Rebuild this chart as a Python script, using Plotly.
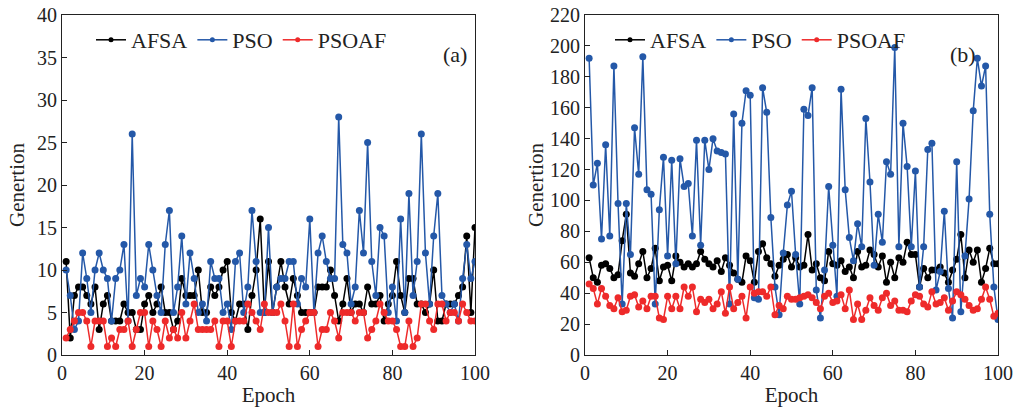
import plotly.graph_objects as go

epochs = list(range(1, 101))

afsa_a = [11,2,7,8,8,7,6,8,3,6,7,4,4,4,6,5,5,3,3,6,7,5,6,8,5,5,3,4,9,7,
          7,7,10,5,5,8,7,8,10,11,5,4,6,6,3,7,10,16,5,11,5,8,11,8,6,9,7,5,5,5,
          5,8,8,8,10,7,4,6,9,5,6,6,5,8,6,6,7,4,6,7,11,7,5,9,9,6,6,5,6,10,
          4,4,6,6,6,7,8,14,5,15]
pso_a = [10,7,3,4,12,9,5,10,12,10,9,4,9,10,13,4,26,7,9,8,13,10,7,5,13,17,5,8,14,6,
         12,9,5,6,4,11,9,9,5,6,3,11,12,5,8,17,11,5,5,15,5,8,9,9,11,11,6,9,8,16,
         5,12,14,11,9,9,28,13,12,6,8,17,12,25,11,7,15,14,5,8,4,16,5,19,7,11,26,12,6,14,
         19,7,6,5,6,4,9,13,9,11]
psoaf_a = [2,3,4,5,5,4,1,4,4,4,1,2,1,3,3,4,1,3,5,5,1,4,3,1,4,2,3,2,5,2,
           4,6,3,3,3,3,4,1,4,4,1,4,4,4,6,5,4,3,6,5,5,5,6,4,1,6,1,3,4,5,
           5,1,3,3,5,4,2,5,5,5,4,5,5,2,3,4,6,5,4,4,3,1,1,4,1,2,6,6,4,3,
           6,6,4,5,5,4,6,5,4,4]

afsa_b = [63,50,47,58,59,56,50,52,74,91,53,51,59,67,50,56,69,48,57,58,48,64,60,57,59,57,59,67,62,59,
          57,61,54,63,58,53,49,47,64,61,47,67,72,63,59,51,58,62,65,57,63,57,58,78,55,59,50,48,67,59,
          58,61,54,57,50,67,57,58,68,65,57,64,47,60,50,63,60,73,65,65,44,56,50,55,55,57,53,47,55,62,
          78,50,68,60,68,47,56,69,59,59]
pso_b = [192,110,124,75,136,77,187,98,33,98,65,147,117,193,107,104,33,94,128,64,126,59,127,109,111,77,139,71,139,120,
         140,132,131,130,33,156,49,150,171,168,37,36,173,157,89,44,26,66,97,106,65,33,159,155,173,42,24,55,109,71,
         38,172,107,76,61,85,70,153,112,58,91,73,125,117,199,70,150,122,70,119,44,70,133,137,42,54,93,43,24,125,
         28,64,101,158,192,174,187,91,44,23]
psoaf_b = [46,43,33,43,38,32,30,37,28,29,38,39,31,35,30,38,38,24,23,38,30,38,30,44,38,44,28,36,34,36,
           30,33,41,27,44,30,34,38,24,44,40,41,41,38,44,26,32,30,38,36,36,37,38,39,37,34,30,38,40,34,
           35,39,30,42,23,33,23,29,37,32,29,37,40,32,35,29,29,28,35,39,38,33,31,41,33,34,37,29,35,41,
           39,36,32,29,30,36,44,36,25,27]

series_names = ["AFSA", "PSO", "PSOAF"]
colors = ["#000000", "#2458a8", "#ee2a2a"]
panel_tags = ["(a)", "(b)"]

FONT = "Liberation Serif"
TXT = "#222222"
fig = go.Figure()

panels = [([afsa_a, pso_a, psoaf_a], "x", "y", "legend"),
          ([afsa_b, pso_b, psoaf_b], "x2", "y2", "legend2")]
for series, xa, ya, lg in panels:
    for vals, name, col in zip(series, series_names, colors):
        fig.add_trace(go.Scatter(x=epochs, y=vals, name=name, mode="lines+markers",
                                 line=dict(color=col, width=1.5),
                                 marker=dict(color=col, size=7),
                                 xaxis=xa, yaxis=ya, showlegend=False))
        # legend-only entry with a small marker like the reference's legend
        fig.add_trace(go.Scatter(x=[None], y=[None], name=name, mode="lines+markers",
                                 line=dict(color=col, width=1.5),
                                 marker=dict(color=col, size=5),
                                 xaxis=xa, yaxis=ya, legend=lg, hoverinfo="skip"))

W, H = 1016, 407
def px(x):
    return x / W
def py(y):
    return 1 - y / H

ax_common = dict(showline=True, linecolor="#222", linewidth=1, mirror=True,
                 ticks="inside", ticklen=5, tickcolor="#222", showgrid=False,
                 zeroline=False, automargin=False, ticklabeloverflow="allow",
                 tickfont=dict(family=FONT, size=20, color=TXT))
ydom = [py(355), py(15)]
title_font = dict(family=FONT, size=21, color=TXT)
leg_common = dict(orientation="h", xanchor="left", yanchor="middle",
                  bgcolor="rgba(0,0,0,0)", font=dict(family=FONT, size=22, color=TXT),
                  itemwidth=30, tracegroupgap=0)

fig.update_layout(
    width=W, height=H,
    margin=dict(l=0, r=0, t=0, b=0),
    paper_bgcolor="white", plot_bgcolor="white",
    font=dict(family=FONT, size=20, color=TXT),
    xaxis=dict(domain=[px(62), px(475)], range=[0, 100], dtick=20, anchor="y",
               title=dict(text="Epoch", font=title_font, standoff=8), **ax_common),
    yaxis=dict(domain=ydom, range=[0, 40], dtick=5, anchor="x",
               title=dict(text="Genertion", font=title_font, standoff=6), **ax_common),
    xaxis2=dict(domain=[px(585), px(998)], range=[0, 100], dtick=20, anchor="y2",
                title=dict(text="Epoch", font=title_font, standoff=8), **ax_common),
    yaxis2=dict(domain=ydom, range=[0, 220], dtick=20, anchor="x2",
                title=dict(text="Genertion", font=title_font, standoff=0), **ax_common),
    legend=dict(x=px(91), y=py(40), **leg_common),
    legend2=dict(x=px(610), y=py(40), **leg_common),
    annotations=[
        dict(text=panel_tags[0], x=px(455), y=py(40), xref="paper", yref="paper",
             showarrow=False, font=dict(family=FONT, size=22, color=TXT)),
        dict(text=panel_tags[1], x=px(978), y=py(40), xref="paper", yref="paper",
             showarrow=False, font=dict(family=FONT, size=22, color=TXT)),
    ],
)

fig.write_html("out.html", config={"displayModeBar": False},
               post_script="document.body.style.margin='0';document.body.style.overflow='hidden';")
